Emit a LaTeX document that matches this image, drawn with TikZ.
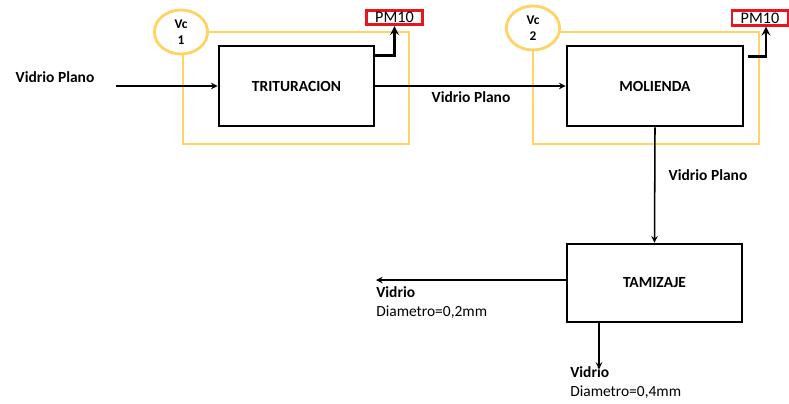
\documentclass[tikz,border=0pt]{standalone}
\usepackage{fontspec}
\setmainfont{Carlito}
\usetikzlibrary{positioning,calc,shapes.geometric}
\definecolor{zonaamarilla}{RGB}{255,212,100}
\definecolor{rojopm}{RGB}{232,20,30}

\begin{document}
\begin{tikzpicture}[
    x=0.025cm, y=-0.025cm,
    every node/.style={font=\fontsize{11}{13}\selectfont},
    % Stijl voor de processen (zwarte kaders)
    proceso/.style={rectangle, draw=black, line width=1.9pt, fill=white, inner sep=0pt,
                    minimum height=2cm, font=\fontsize{11}{13}\selectfont\bfseries},
    % Stijl voor de controlezone (geel)
    zona/.style={rectangle, draw=zonaamarilla, line width=2pt,
                 minimum width=5.65cm, minimum height=2.8cm},
    vc/.style={ellipse, draw=zonaamarilla, line width=2pt, fill=white, inner sep=0pt,
               minimum width=1.33cm, minimum height=1.1cm, align=center,
               font=\fontsize{9.5}{11}\selectfont\bfseries},
    % Stijl voor de emissies
    pm/.style={rectangle, draw=rojopm, line width=1.9pt, fill=white, inner sep=0pt,
               minimum width=1.4cm, minimum height=0.36cm, font=\fontsize{11.5}{13}\selectfont},
    etiqueta/.style={font=\fontsize{11}{13}\selectfont\bfseries},
    salida/.style={align=left, anchor=north west, inner sep=0pt, font=\fontsize{11}{13.5}\selectfont},
    arrow/.style={->, line width=1.1pt, >=stealth},
    pmline/.style={->, line width=1.8pt, >=stealth}
]
\useasboundingbox (0,0) rectangle (789,403);

% --- Controlezones ---
\node[zona] (zona1) at (296,88) {};
\node[zona] (zona2) at (646,88) {};
\node[vc] (vc1) at (181,32) {Vc\\1};
\node[vc] (vc2) at (533,28) {Vc\\2};

% --- Processen ---
\node[proceso, minimum width=3.875cm] (tri) at (296.5,86) {TRITURACION};
\node[proceso, minimum width=4.4cm] (mol) at (655,86) {MOLIENDA};
\node[proceso, minimum width=4.375cm, minimum height=1.95cm] (tam) at (654.5,283) {TAMIZAJE};

% --- PM10 ---
\node[pm] (pm1) at (394.5,17.5) {PM10};
\node[pm] (pm2) at (760,18) {PM10};

% --- Vrije uiteinden ---
\coordinate (in) at (116,86);
\coordinate (out1) at (376,280);
\coordinate (out2) at (599,369);

% --- Pijlen ---
\draw[arrow] (in) -- (tri.west);
\draw[arrow] (tri.east) -- (mol.west);
\draw[arrow] (mol.south) -- (tam.north);
\draw[arrow] (tam.west |- out1) -- (out1);
\draw[arrow] (tam.south -| out2) -- (out2);
\draw[pmline] ($(tri.north east)+(0,11)$) -| (pm1.south);
\draw[pmline] ($(mol.north east)+(4,12)$) -| ($(pm2.south)+(6,0)$);

% --- Labels ---
\node[etiqueta] (lbl1) at (55,77) {Vidrio Plano};
\node[etiqueta] (lbl2) at (471,97) {Vidrio Plano};
\node[etiqueta] (lbl3) at (708,175) {Vidrio Plano};
\node[salida] (fino) at (376,286) {\textbf{Vidrio}\\Diametro=0,2mm};
\node[salida] (grueso) at (570,366) {\textbf{Vidrio}\\Diametro=0,4mm};

\end{tikzpicture}
\end{document}
